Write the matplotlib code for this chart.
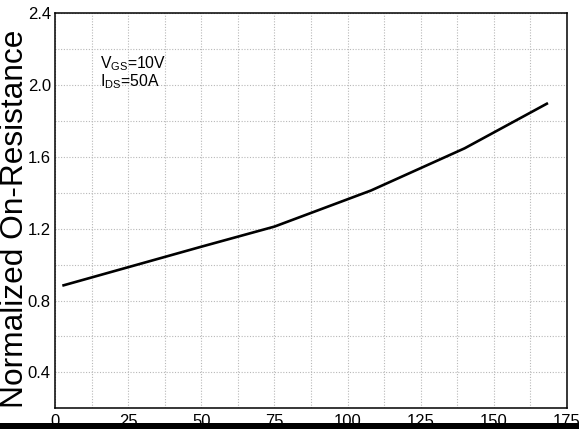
import matplotlib
matplotlib.use("Agg")
import matplotlib.pyplot as plt
from matplotlib.patches import Rectangle
from matplotlib.ticker import MultipleLocator

plt.rcParams['font.family'] = ['Liberation Sans', 'DejaVu Sans']
plt.rcParams['mathtext.fontset'] = 'custom'
plt.rcParams['mathtext.rm'] = 'Liberation Sans'
plt.rcParams['mathtext.it'] = 'Liberation Sans:italic'

# Junction temperature (°C) vs normalized on-resistance
temp_c = [2.5, 50, 75, 108, 140, 168.5]
r_norm = [0.883, 1.10, 1.212, 1.413, 1.648, 1.90]

x_ticks = [0, 25, 50, 75, 100, 125, 150, 175]
y_ticks = [0.4, 0.8, 1.2, 1.6, 2.0, 2.4]

W, H = 579, 429
fig = plt.figure(figsize=(W / 100, H / 100), dpi=100)
ax = fig.add_axes([55 / W, 1 - 408.3 / H, (567 - 55) / W, (408.3 - 13.3) / H])

ax.plot(temp_c, r_norm, color='black', lw=1.9, solid_capstyle='butt')

ax.set_xlim(0, 175)
ax.set_ylim(0.2, 2.4)
ax.set_xticks(x_ticks)
ax.set_yticks(y_ticks)
ax.set_yticklabels([f"{v:.1f}" for v in y_ticks])
ax.xaxis.set_minor_locator(MultipleLocator(12.5))
ax.yaxis.set_minor_locator(MultipleLocator(0.2))
ax.tick_params(which='both', length=0, labelsize=12)
ax.tick_params(axis='y', pad=3)
ax.tick_params(axis='x', pad=4)
ax.grid(which='both', color='#b8b8b8', linestyle=(0, (1, 1.5)), linewidth=0.8)
ax.set_axisbelow(True)
for s in ax.spines.values():
    s.set_linewidth(1.1)

ax.set_ylabel('Normalized On-Resistance', fontsize=22.8, va='center')
ax.yaxis.set_label_coords(-40 / (567 - 55), 0.48)

ax.text(0.088, 0.8615, r'V$_{\mathrm{GS}}$=10V', transform=ax.transAxes,
        fontsize=11.3, va='baseline')
ax.text(0.088, 0.816, r'I$_{\mathrm{DS}}$=50A', transform=ax.transAxes,
        fontsize=11.3, va='baseline')

# dark strip along the lower edge
fig.add_artist(Rectangle((0, 0), 1, 6 / H, transform=fig.transFigure,
                         facecolor='black', edgecolor='none', zorder=10))

fig.savefig('out.png', dpi=100)
